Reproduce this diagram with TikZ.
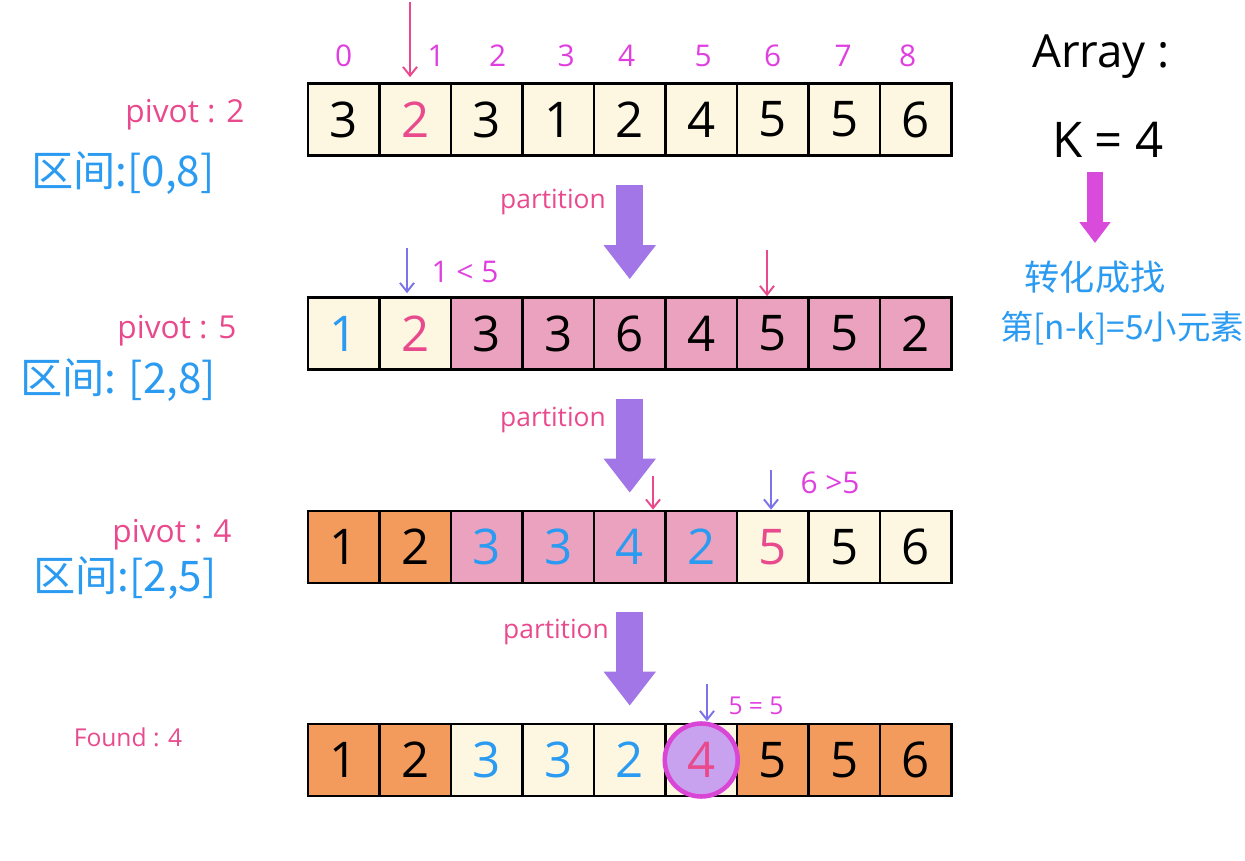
\documentclass[tikz,border=0pt]{standalone}
\usepackage{fontspec}
\setmainfont{Open Sans}
\newfontfamily\cjk{Noto Sans CJK SC}
\usetikzlibrary{arrows.meta,positioning}

\definecolor{cream}{HTML}{FDF6E1}
\definecolor{rosecell}{HTML}{EBA2BE}
\definecolor{orangecell}{HTML}{F29B5C}
\definecolor{bigpurple}{HTML}{A276E6}
\definecolor{idxmag}{HTML}{E03FE0}
\definecolor{pinktxt}{HTML}{E94A8D}
\definecolor{bluetxt}{HTML}{2B9BF2}
\definecolor{ptrpurple}{HTML}{7C72EA}
\definecolor{circfill}{HTML}{C9A2EF}
\definecolor{circline}{HTML}{D946D6}
\definecolor{kmag}{HTML}{D94BDB}

\begin{document}
\begin{tikzpicture}[x=0.02cm, y=-0.02cm,
  cell/.style={rectangle, draw=black, line width=1.5pt, minimum width=1.43cm, minimum height=1.44cm, inner sep=0pt, font=\fontsize{28}{30}\selectfont},
  idx/.style={text=idxmag, font=\fontsize{17}{19}\selectfont},
  pivlbl/.style={text=pinktxt, font=\fontsize{18}{20}\selectfont},
  rangelbl/.style={text=bluetxt, font=\cjk\fontsize{24}{26}\selectfont},
  cmplbl/.style={text=idxmag, font=\fontsize{17}{19}\selectfont},
  partlbl/.style={text=pinktxt, font=\fontsize{15}{17}\selectfont},
  ptr/.style={line width=1.1pt, -{Straight Barb[length=5pt,width=8pt]}},
  bigarrow/.style={draw=bigpurple, line width=0.54cm, -{Triangle[length=0.68cm,width=1.0cm]}, shorten <=0.56cm, shorten >=0.34cm},
  ]
\useasboundingbox (0,0) rectangle (1245,861);

% indices
\foreach \n/\dx in {0/0,1/21,2/11,3/8,4/-3,5/2,6/0,7/-1,8/-8}
  \node[idx] (i\n) at ({343.75+71.5*\n+\dx},56) {\n};

% rows of the array
\foreach \v/\f/\t [count=\i from 0] in {3/cream/black,2/cream/pinktxt,3/cream/black,1/cream/black,2/cream/black,4/cream/black,5/cream/black,5/cream/black,6/cream/black}
  \node[cell, fill=\f, text=\t] (a\i) at ({343.75+71.5*\i},119.5) {\v};
\foreach \v/\f/\t [count=\i from 0] in {1/cream/bluetxt,2/cream/pinktxt,3/rosecell/black,3/rosecell/black,6/rosecell/black,4/rosecell/black,5/rosecell/black,5/rosecell/black,2/rosecell/black}
  \node[cell, fill=\f, text=\t] (b\i) at ({343.75+71.5*\i},333.5) {\v};
\foreach \v/\f/\t [count=\i from 0] in {1/orangecell/black,2/orangecell/black,3/rosecell/bluetxt,3/rosecell/bluetxt,4/rosecell/bluetxt,2/rosecell/bluetxt,5/cream/pinktxt,5/cream/black,6/cream/black}
  \node[cell, fill=\f, text=\t] (c\i) at ({343.75+71.5*\i},547) {\v};
\foreach \v/\f/\t [count=\i from 0] in {1/orangecell/black,2/orangecell/black,3/cream/bluetxt,3/cream/bluetxt,2/cream/bluetxt,{}/cream/black,5/orangecell/black,5/orangecell/black,6/orangecell/black}
  \node[cell, fill=\f, text=\t] (d\i) at ({343.75+71.5*\i},760) {\v};
\node[circle, draw=circline, fill=circfill, line width=2.6pt, minimum size=1.46cm, inner sep=0pt, text=pinktxt, font=\fontsize{28}{30}\selectfont] (found) at (d5) {4};

% left labels
\node[pivlbl] (piv1) at (185,115) {pivot : 2};
\node[rangelbl] (rng1) at (123,173) {区间:[0,8]};
\node[pivlbl] (piv2) at (177,331) {pivot : 5};
\node[rangelbl] (rng2) at (118,380) {区间: [2,8]};
\node[pivlbl] (piv3) at (172,535) {pivot : 4};
\node[rangelbl] (rng3) at (125,578) {区间:[2,5]};
\node[pivlbl, font=\fontsize{14}{16}\selectfont] (fnd) at (128,737) {Found : 4};

% right side
\node[font=\fontsize{26}{28}\selectfont] (arr) at (1101,57) {Array :};
\node[font=\fontsize{28}{30}\selectfont] (kval) at (1108,140) {K = 4};
\coordinate (ks) at (1095,172);
\coordinate (ke) at (1095,243);
\draw[draw=kmag, line width=0.32cm, -{Triangle[length=0.42cm,width=0.6cm]}] (ks) -- (ke);
\node[text=bluetxt, font=\cjk\fontsize{20}{22}\selectfont] (conv) at (1095,277) {转化成找};
\node[text=bluetxt, font=\cjk\fontsize{19}{21}\selectfont] (kth) at (1122,328) {第[n-k]=5小元素};

% partition steps
\draw[bigarrow] (a4.south) -- (b4.north);
\draw[bigarrow] (b4.south) -- (c4.north);
\draw[bigarrow] (c4.south) -- (d4.north);
\node[partlbl] (part1) at (553,202) {partition};
\node[partlbl] (part2) at (553,420) {partition};
\node[partlbl] (part3) at (556,632) {partition};

% pointers
\coordinate (p1) at (410,2);
\draw[ptr, pinktxt] (p1) -- ([yshift=0.1cm]p1 |- a1.north);
\coordinate (p2) at (407,248);
\draw[ptr, ptrpurple] (p2) -- ([yshift=0.06cm]p2 |- b1.north);
\coordinate (p3) at (767,250);
\draw[ptr, pinktxt] (p3) -- (p3 |- b6.north);
\coordinate (p4) at (653,476);
\draw[ptr, pinktxt] (p4) -- (p4 |- c4.north);
\coordinate (p5) at (771,470);
\draw[ptr, ptrpurple] (p5) -- (p5 |- c6.north);
\coordinate (p6) at (707,684);
\draw[ptr, ptrpurple] (p6) -- (p6 |- found.north);

\node[cmplbl] (cmp1) at (465,272) {1 < 5};
\node[cmplbl] (cmp2) at (830,483) {6 >5};
\node[cmplbl, font=\fontsize{14}{16}\selectfont] (cmp3) at (756,706) {5 = 5};
\end{tikzpicture}
\end{document}
